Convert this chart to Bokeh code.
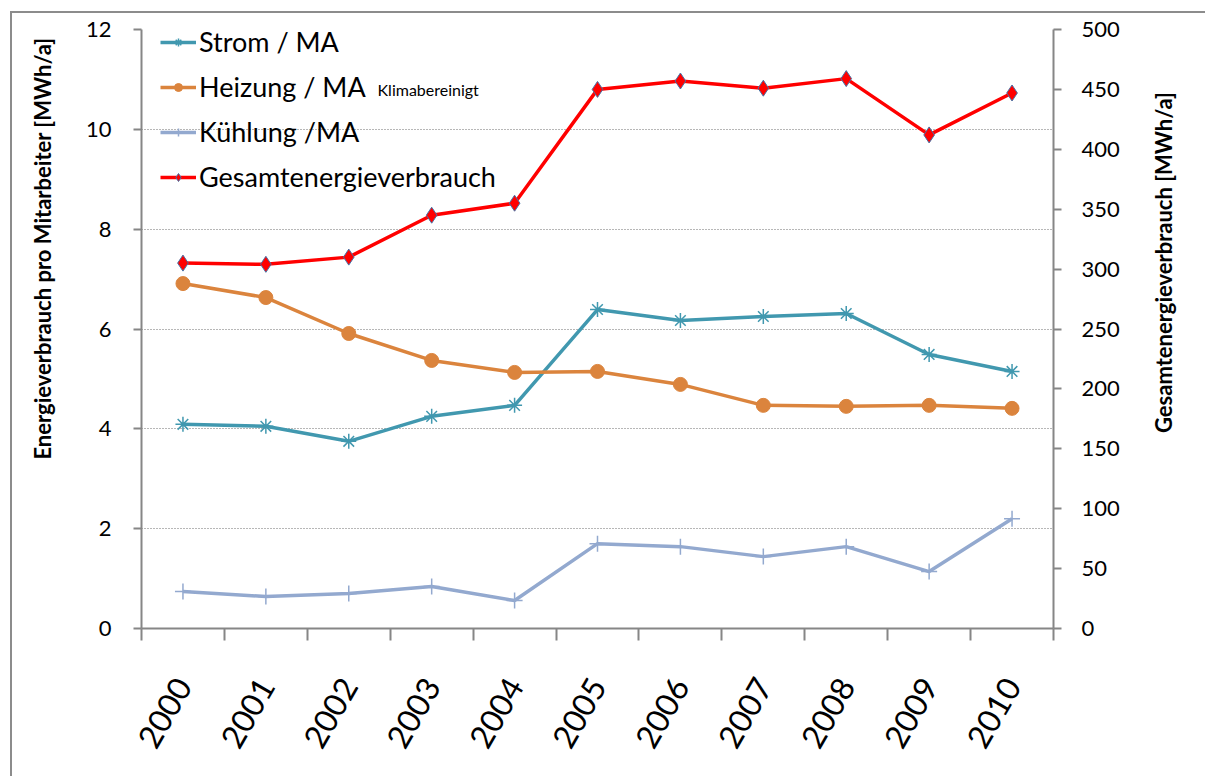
import math
from bokeh.plotting import figure
from bokeh.models import Range1d, LinearAxis, FixedTicker, Legend, LegendItem, Label
from bokeh.embed import file_html
from bokeh.resources import INLINE

years = ["2000", "2001", "2002", "2003", "2004", "2005", "2006", "2007", "2008", "2009", "2010"]
strom = [4.09, 4.05, 3.75, 4.25, 4.47, 6.39, 6.17, 6.25, 6.31, 5.49, 5.15]
heizung = [6.91, 6.63, 5.91, 5.37, 5.13, 5.15, 4.89, 4.47, 4.45, 4.47, 4.41]
kuehlung = [0.74, 0.64, 0.70, 0.84, 0.56, 1.70, 1.64, 1.44, 1.64, 1.14, 2.20]
gesamt = [305, 304, 310, 345, 355, 450, 457, 451, 459, 412, 447]
left_ticks = [0, 2, 4, 6, 8, 10, 12]
right_ticks = [0, 50, 100, 150, 200, 250, 300, 350, 400, 450, 500]
left_title = "Energieverbrauch pro Mitarbeiter [MWh/a]"
right_title = "Gesamtenergieverbrauch [MWh/a]"

xs = list(range(len(years)))
FONT = "Lato"
AX = "#868686"

p = figure(width=1195, height=765,
           x_range=Range1d(-0.5, len(years) - 0.5), y_range=Range1d(0, 12),
           output_backend="svg", toolbar_location=None,
           min_border_left=129, min_border_right=154, min_border_top=16, min_border_bottom=150)
p.styles = {"margin-left": "10px", "margin-top": "11px",
            "border-left": "2px solid #8c8c8c", "border-top": "2px solid #8c8c8c"}
p.outline_line_color = None
p.extra_y_ranges = {"right": Range1d(0, 500)}

# x axis
xa = p.xaxis[0]
xa.ticker = FixedTicker(ticks=xs, minor_ticks=[i - 0.5 for i in range(len(years) + 1)])
xa.major_label_overrides = {i: y for i, y in enumerate(years)}
xa.major_tick_line_color = None
xa.major_tick_out = 12
xa.major_tick_in = 0
xa.minor_tick_out = 12
xa.minor_tick_in = 0
xa.minor_tick_line_color = AX
xa.minor_tick_line_width = 2
xa.axis_line_color = AX
xa.axis_line_width = 2
xa.major_label_orientation = 1.0472
xa.major_label_text_font = FONT
xa.major_label_text_font_size = "32px"
xa.major_label_text_color = "black"
xa.major_label_standoff = 40

ya = p.yaxis[0]
ya.ticker = FixedTicker(ticks=left_ticks, minor_ticks=[])
ya.major_tick_out = 8
ya.major_tick_in = 0
ya.major_tick_line_color = AX
ya.major_tick_line_width = 2
ya.axis_line_color = AX
ya.axis_line_width = 2
ya.major_label_text_font = FONT
ya.major_label_text_font_size = "22px"
ya.major_label_text_color = "black"
ya.major_label_standoff = 22

ra = LinearAxis(y_range_name="right", ticker=FixedTicker(ticks=right_ticks, minor_ticks=[]))
ra.major_tick_out = 8
ra.major_tick_in = 0
ra.major_tick_line_color = AX
ra.major_tick_line_width = 2
ra.axis_line_color = AX
ra.axis_line_width = 2
ra.major_label_text_font = FONT
ra.major_label_text_font_size = "22px"
ra.major_label_text_color = "black"
ra.major_label_standoff = 20
p.add_layout(ra, "right")

p.xgrid.grid_line_color = None
p.ygrid.ticker = FixedTicker(ticks=left_ticks[1:])
p.ygrid.grid_line_color = "#6f6f6f"
p.ygrid.grid_line_width = 1
p.ygrid.grid_line_dash = "1 2"

c_strom = "#4198AF"
c_heiz = "#DB843D"
c_kuehl = "#93A9CF"
c_ges = "#FF0000"

l1 = p.line(xs, strom, line_color=c_strom, line_width=3.5)
m1 = p.scatter(xs, strom, marker="asterisk", size=15, line_color=c_strom, line_width=1.5)
l2 = p.line(xs, heizung, line_color=c_heiz, line_width=3.5)
m2 = p.scatter(xs, heizung, marker="circle", size=14, fill_color=c_heiz, line_color=c_heiz)
l3 = p.line(xs, kuehlung, line_color=c_kuehl, line_width=3.5)
m3 = p.scatter(xs, kuehlung, marker="cross", size=16, line_color=c_kuehl, line_width=1.5)
l4 = p.line(xs, gesamt, line_color=c_ges, line_width=3.5, y_range_name="right")
m4 = p.scatter(xs, gesamt, marker="diamond", size=16, fill_color=c_ges, line_color="#4572A7",
               line_width=1, y_range_name="right")

legend = Legend(items=[
    LegendItem(label="Strom / MA", renderers=[l1, m1]),
    LegendItem(label="Heizung / MA", renderers=[l2, m2]),
    LegendItem(label="Kühlung /MA", renderers=[l3, m3]),
    LegendItem(label="Gesamtenergieverbrauch", renderers=[l4, m4]),
], location=(19, 435))
legend.background_fill_alpha = 0
legend.border_line_color = None
legend.label_text_font = FONT
legend.label_text_font_size = "27px"
legend.label_text_color = "black"
legend.glyph_width = 36
legend.glyph_height = 20
legend.label_height = 20
legend.spacing = 12
legend.padding = 5
legend.margin = 0
legend.label_standoff = 3
p.add_layout(legend)

p.add_layout(Label(x=236, y=539, x_units="screen", y_units="screen", text="Klimabereinigt",
                   text_font=FONT, text_font_size="16px", text_color="black",
                   text_baseline="middle"))

# axis titles as rotated labels in the side panels (reading bottom to top)
p.add_layout(Label(x=-1.694, y=7.613, text=left_title, angle=math.pi / 2,
                   text_font=FONT, text_font_style="bold", text_font_size="22px",
                   text_color="black", text_align="center", text_baseline="middle"), "left")
p.add_layout(Label(x=11.827, y=7.332, text=right_title, angle=math.pi / 2,
                   text_font=FONT, text_font_style="bold", text_font_size="22px",
                   text_color="black", text_align="center", text_baseline="middle"), "right")

open("out.html", "w").write(file_html(p, INLINE))
